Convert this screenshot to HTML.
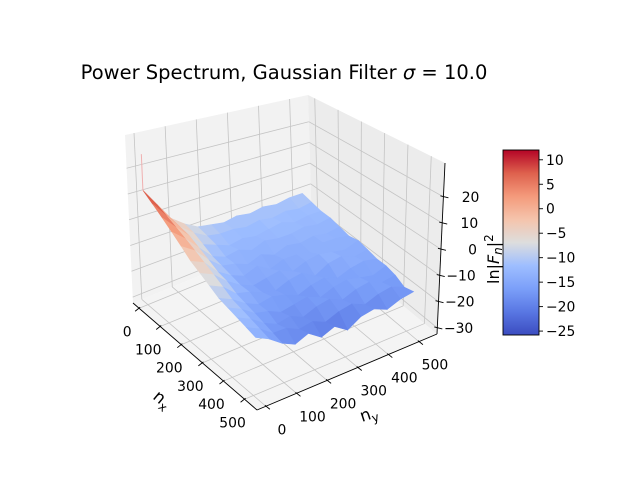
<!DOCTYPE html>
<html><head><meta charset="utf-8">
<style>
html,body{margin:0;padding:0;background:#fff;}
svg{display:block;font-family:"DejaVu Sans","Liberation Sans",sans-serif;}
</style></head>
<body>
<svg id="chart" width="640" height="480" viewBox="0 0 640 480" xmlns="http://www.w3.org/2000/svg">
<rect width="640" height="480" fill="#fff"/>
<g id="panes"></g>
<g id="grid"></g>
<g id="axes"></g>
<g id="surface"></g>
<g id="labels"></g>
<g id="colorbar"></g>
<text x="284" y="79" text-anchor="middle" font-size="19.5">Power Spectrum, Gaussian Filter <tspan font-style="italic">σ</tspan> = 10.0</text>
</svg>
<script>
// ---- data ----
const nxTicks = [0, 100, 200, 300, 400, 500];
const nyTicks = [0, 100, 200, 300, 400, 500];
const zTicks = [-30, -20, -10, 0, 10, 20];
const cbTicks = [-25, -20, -15, -10, -5, 0, 5, 10];
const gridNx = [0, 42.6, 85.2, 127.8, 170.4, 213, 255.6, 298.2, 340.8, 383.4, 426, 468.6, 511];
const gridNy = [0, 42.6, 85.2, 127.8, 170.4, 213, 255.6, 298.2, 340.8, 383.4, 426, 468.6, 511];
const zRow0 = [12, 5, -2, -6, -9, -10, -11, -10, -11, -10, -11, -10, -10];
const zRow1 = [9, 3, -3, -7, -10, -11, -11, -12, -11, -12, -11, -12, -11];
const zRow2 = [6, 1, -4, -9, -11, -13, -12, -13, -12, -11, -13, -12, -12];
const zRow3 = [3, -1, -6, -11, -13, -12, -14, -12, -13, -13, -12, -13, -12];
const zRow4 = [0, -3, -8, -12, -13, -15, -13, -15, -13, -14, -13, -14, -13];
const zRow5 = [-3, -5, -10, -13, -15, -13, -16, -14, -14, -15, -13, -13, -14];
const zRow6 = [-5, -7, -11, -14, -16, -15, -14, -16, -14, -13, -14, -15, -13];
const zRow7 = [-7, -9, -13, -14, -16, -17, -15, -14, -17, -14, -13, -15, -14];
const zRow8 = [-9, -11, -14, -16, -15, -16, -18, -16, -15, -17, -15, -14, -15];
const zRow9 = [-10, -12, -15, -16, -18, -17, -16, -18, -16, -15, -16, -17, -15];
const zRow10 = [-11, -13, -16, -18, -17, -19, -17, -16, -18, -16, -15, -17, -16];
const zRow11 = [-12, -14, -17, -17, -19, -18, -20, -18, -17, -19, -17, -16, -18];
const zRow12 = [-13, -15, -18, -20, -18, -21, -19, -22, -19, -18, -20, -18, -17];
const zGrid = [zRow0,zRow1,zRow2,zRow3,zRow4,zRow5,zRow6,zRow7,zRow8,zRow9,zRow10,zRow11,zRow12];
const vMin = -25.8, vMax = 12.0;

// ---- projection ----
const NS='http://www.w3.org/2000/svg';
const xr=[-29,559], yr=[-29,559], zr=[-32.3,32.9];
const L=[133,303],F=[257,410],R=[437,334],B=[312,230];
function proj(nx,ny,z){
  const u=(nx-xr[0])/(xr[1]-xr[0]), v=(ny-yr[0])/(yr[1]-yr[0]);
  const w=(z-zr[0])/(zr[1]-zr[0]);
  const x=L[0]*(1-u)*(1-v)+F[0]*u*(1-v)+R[0]*u*v+B[0]*(1-u)*v;
  const y=L[1]*(1-u)*(1-v)+F[1]*u*(1-v)+R[1]*u*v+B[1]*(1-u)*v;
  const H=168+40*u-33*v-4*u*v;
  const lean=-8*(1-u)*(1-v)+8*u*v-4*(1-u)*v;
  return [x+lean*w, y-H*w];
}
function el(tag,attrs,parent){const e=document.createElementNS(NS,tag);for(const k in attrs)e.setAttribute(k,attrs[k]);parent.appendChild(e);return e;}
function poly(pts){return pts.map(p=>p[0].toFixed(1)+','+p[1].toFixed(1)).join(' ');}
const stops=[[0,59,76,192],[0.125,89,119,227],[0.25,123,159,249],[0.375,158,190,255],[0.5,221,221,221],[0.625,245,196,172],[0.75,244,154,123],[0.875,222,97,77],[1,180,4,38]];
function cmap(t){t=Math.max(0,Math.min(1,t));for(let i=1;i<stops.length;i++){if(t<=stops[i][0]){const a=stops[i-1],b=stops[i],f=(t-a[0])/(b[0]-a[0]);return 'rgb('+[1,2,3].map(k=>Math.round(a[k]+(b[k]-a[k])*f)).join(',')+')';}}return 'rgb(180,4,38)';}
const fmt=v=>v<0?'\u2212'+(-v):''+v;

// panes
const panes=document.getElementById('panes');
let p=el('polygon',{points:poly([proj(xr[0],yr[0],zr[0]),proj(xr[0],yr[1],zr[0]),proj(xr[0],yr[1],zr[1]),proj(xr[0],yr[0],zr[1])]),fill:'#f2f2f2'},panes);

p=el('polygon',{points:poly([proj(xr[0],yr[1],zr[0]),proj(xr[1],yr[1],zr[0]),proj(xr[1],yr[1],zr[1]),proj(xr[0],yr[1],zr[1])]),fill:'#ececec'},panes);

p=el('polygon',{points:poly([proj(xr[0],yr[0],zr[0]),proj(xr[1],yr[0],zr[0]),proj(xr[1],yr[1],zr[0]),proj(xr[0],yr[1],zr[0])]),fill:'#f4f4f4'},panes);


// grid
const grid=document.getElementById('grid');
const gs={stroke:'#c4c4c4','stroke-width':0.8,fill:'none'};
function line(a,b,attrs,parent){return el('line',Object.assign({x1:a[0],y1:a[1],x2:b[0],y2:b[1]},attrs),parent);}
nxTicks.forEach(t=>{
  let g=line(proj(t,yr[0],zr[0]),proj(t,yr[1],zr[0]),gs,grid);
  g=line(proj(t,yr[1],zr[0]),proj(t,yr[1],zr[1]),gs,grid);
});
nyTicks.forEach(t=>{
  let g=line(proj(xr[0],t,zr[0]),proj(xr[1],t,zr[0]),gs,grid);
  g=line(proj(xr[0],t,zr[0]),proj(xr[0],t,zr[1]),gs,grid);
});
zTicks.forEach(t=>{
  let g=line(proj(xr[0],yr[0],t),proj(xr[0],yr[1],t),gs,grid);
  g=line(proj(xr[0],yr[1],t),proj(xr[1],yr[1],t),gs,grid);
});

// axes
const axes=document.getElementById('axes'), labels=document.getElementById('labels');
const as={stroke:'#000','stroke-width':0.9};
let a=line(proj(xr[0],yr[0],zr[0]),proj(xr[1],yr[0],zr[0]),as,axes);
a=line(proj(xr[1],yr[0],zr[0]),proj(xr[1],yr[1],zr[0]),as,axes);
a=line(proj(xr[1],yr[1],zr[0]),proj(xr[1],yr[1],zr[1]),as,axes);
nxTicks.forEach(t=>{
  const q=proj(t,yr[0],zr[0]);
  const tk=line([q[0]-4,q[1]+3],[q[0]+1,q[1]-1],as,axes);
  const tx=el('text',{x:q[0]-12,y:q[1]+28,'text-anchor':'middle','font-size':13.9},labels);tx.textContent=fmt(t);
  
});
nyTicks.forEach(t=>{
  const q=proj(xr[1],t,zr[0]);
  const tk=line([q[0]+4,q[1]+3],[q[0]-1,q[1]-1],as,axes);
  const tx=el('text',{x:q[0]+16,y:q[1]+28,'text-anchor':'middle','font-size':13.9},labels);tx.textContent=fmt(t);
  
});
zTicks.forEach(t=>{
  const q=proj(xr[1],yr[1],t);
  const tk=line([q[0]-3,q[1]-1],[q[0]+5,q[1]+1],as,axes);
  const tx=el('text',{x:q[0]+36,y:q[1]+5,'text-anchor':'end','font-size':13.9},labels);tx.textContent=fmt(t);
  
});
let tl=el('text',{x:0,y:0,'font-size':16.7,transform:'translate(152,398) rotate(40)'},labels);
tl.innerHTML='n<tspan font-size="12" dy="4">x</tspan>';

tl=el('text',{x:0,y:0,'font-size':16.7,transform:'translate(362,422) rotate(-18)'},labels);
tl.innerHTML='n<tspan font-size="12" dy="4">y</tspan>';


// surface
const surf=document.getElementById('surface');
const n=gridNx.length, m=gridNy.length;
const cells=[];
for(let i=0;i<n-1;i++)for(let j=0;j<m-1;j++)cells.push([i,j]);
cells.sort((c1,c2)=>(c2[1]-c2[0])-(c1[1]-c1[0]));
cells.forEach(([i,j])=>{
  const zs=[zGrid[i][j],zGrid[i+1][j],zGrid[i+1][j+1],zGrid[i][j+1]];
  const zm=(zs[0]+zs[1]+zs[2]+zs[3])/4;
  const pts=[proj(gridNx[i],gridNy[j],zs[0]),proj(gridNx[i+1],gridNy[j],zs[1]),proj(gridNx[i+1],gridNy[j+1],zs[2]),proj(gridNx[i],gridNy[j+1],zs[3])];
  const c=cmap((zm-vMin)/(vMax-vMin));
  const pg=el('polygon',{points:poly(pts),fill:c,stroke:c,'stroke-width':0.6},surf);
  
  
});
const sp=line(proj(0,0,zGrid[0][0]),proj(0,0,26),{stroke:'#f0b0b0','stroke-width':1},surf);


// colorbar
const cb=document.getElementById('colorbar');
const cbX=503,cbW=36,cbTop=150,cbBot=335;
const defs=el('defs',{},cb);
const lg=el('linearGradient',{id:'cg',x1:0,y1:1,x2:0,y2:0},defs);
stops.forEach(s=>el('stop',{offset:s[0],'stop-color':'rgb('+s[1]+','+s[2]+','+s[3]+')'},lg));
const cr=el('rect',{x:cbX,y:cbTop,width:cbW,height:cbBot-cbTop,fill:'url(#cg)',stroke:'#000','stroke-width':0.9},cb);

const cy=v=>cbBot-(v-vMin)/(vMax-vMin)*(cbBot-cbTop);
cbTicks.forEach(t=>{
  const y=cy(t);
  const tk=line([cbX+cbW,y],[cbX+cbW+4,y],as,cb);
  const tx=el('text',{x:cbX+cbW+7,y:y+5,'font-size':13.9},cb);tx.textContent=fmt(t);
  
});
const cl=el('text',{x:0,y:0,'font-size':16,transform:'translate(499,284) rotate(-90)'},cb);
cl.innerHTML='ln|<tspan font-style="italic">F</tspan><tspan font-size="12" dy="3" font-style="italic">n</tspan><tspan dy="-3">|</tspan><tspan font-size="12" dy="-6">2</tspan>';

</script>
</body></html>
